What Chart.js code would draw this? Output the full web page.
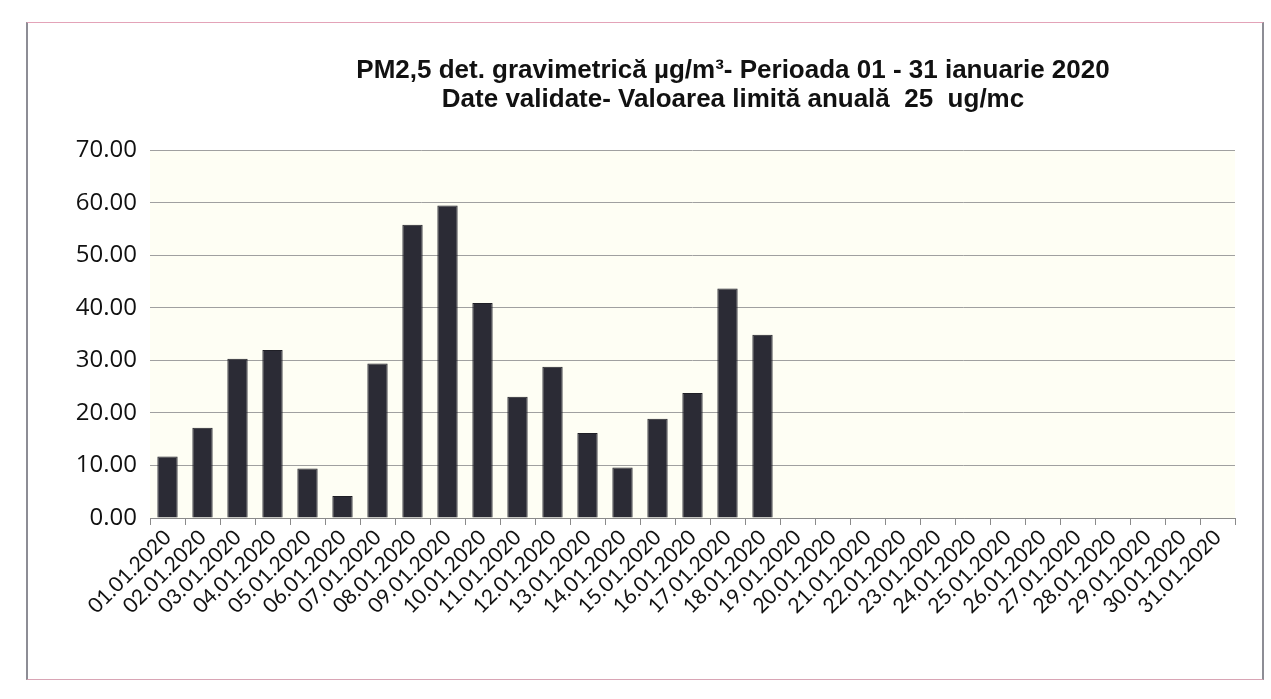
<!DOCTYPE html>
<html>
<head>
<meta charset="utf-8">
<script src="https://cdn.jsdelivr.net/npm/chart.js@4.4.1/dist/chart.umd.min.js"></script>
<style>
  html, body { margin: 0; padding: 0; background: #ffffff; }
  #wrap { position: relative; width: 1271px; height: 699px; overflow: hidden; }
  #frame { position: absolute; left: 26px; top: 22px; width: 1238px; height: 658px;
           border-top: 1px solid #e3a3b8; border-left: 2px solid #8d8d95;
           border-right: 2px solid #8d8d95; border-bottom: 1px solid #d9a5b5; box-sizing: border-box; }
  canvas { position: absolute; left: 0; top: 0; }
</style>
</head>
<body>
<div id="wrap">
  <div id="frame"></div>
  <canvas id="c" width="1271" height="699"></canvas>
</div>
<script>
const titleLines = [
  "PM2,5 det. gravimetrică µg/m³- Perioada 01 - 31 ianuarie 2020",
  "Date validate- Valoarea limită anuală  25  ug/mc"
];
const categories = [
  "01.01.2020","02.01.2020","03.01.2020","04.01.2020","05.01.2020","06.01.2020",
  "07.01.2020","08.01.2020","09.01.2020","10.01.2020","11.01.2020","12.01.2020",
  "13.01.2020","14.01.2020","15.01.2020","16.01.2020","17.01.2020","18.01.2020",
  "19.01.2020","20.01.2020","21.01.2020","22.01.2020","23.01.2020","24.01.2020",
  "25.01.2020","26.01.2020","27.01.2020","28.01.2020","29.01.2020","30.01.2020",
  "31.01.2020"
];
const pm25Values = [
  11.7, 17.2, 30.3, 32.0, 9.4, 4.2, 29.4, 55.8, 59.5, 40.9, 23.1, 28.8,
  16.2, 9.6, 18.9, 23.8, 43.7, 34.9,
  null, null, null, null, null, null, null, null, null, null, null, null, null
];
const yTickMin = 0;
const yTickMax = 70;
const yTickStep = 10;

const plotBg = {
  id: 'plotBg',
  beforeDraw(chart) {
    const a = chart.chartArea, ctx = chart.ctx;
    ctx.save();
    ctx.fillStyle = '#fefef4';
    ctx.fillRect(a.left, a.top, a.right - a.left, a.bottom - a.top);
    ctx.restore();
  }
};
const titleShift = {
  id: 'titleShift',
  afterLayout(chart) {
    const t = chart.titleBlock;
    if (t) { t.left = 195; t.right = 1271; t.width = t.right - t.left; }
  }
};

new Chart(document.getElementById('c'), {
  type: 'bar',
  data: {
    labels: categories,
    datasets: [{
      label: 'PM2,5',
      data: pm25Values,
      backgroundColor: '#2b2b35',
      borderColor: '#1f1f26',
      borderWidth: 1,
      categoryPercentage: 1.0,
      barPercentage: 0.58
    }]
  },
  options: {
    responsive: false,
    animation: false,
    layout: { padding: { left: 0, right: 36, top: 0, bottom: 0 } },
    plugins: {
      legend: { display: false },
      tooltip: { enabled: false },
      title: {
        display: true,
        text: titleLines,
        color: '#111111',
        font: { family: "'Liberation Sans', Arial, sans-serif", size: 26, weight: 'bold', lineHeight: 1.12 },
        padding: { top: 56, bottom: 36 }
      }
    },
    scales: {
      x: {
        offset: true,
        grid: { display: true, drawOnChartArea: false, drawTicks: true, tickLength: 7, color: '#8a8a8a', offset: true },
        border: { display: true, color: '#8a8a8a', width: 1 },
        ticks: {
          autoSkip: false, maxRotation: 45, minRotation: 45, padding: 0,
          color: '#111111',
          font: { family: "Lato, 'Open Sans', sans-serif", size: 21 }
        },
        afterFit(scale) { scale.height = 181; }
      },
      y: {
        min: yTickMin, max: yTickMax,
        grid: { color: '#a0a0a0', lineWidth: 1, drawTicks: false },
        border: { display: false },
        ticks: {
          stepSize: yTickStep, padding: 13, color: '#111111',
          font: { family: "'Open Sans', sans-serif", size: 24 },
          callback: v => Number(v).toFixed(2)
        },
        afterFit(scale) { scale.width = 150; }
      }
    }
  },
  plugins: [plotBg, titleShift]
});
</script>
</body>
</html>
